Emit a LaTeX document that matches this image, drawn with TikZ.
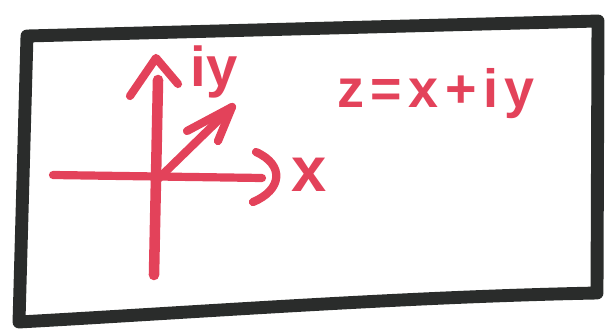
\documentclass[tikz,border=0pt]{standalone}
\usepackage{fontspec}
\setmainfont{Liberation Sans}
\usetikzlibrary{positioning}
\definecolor{Marker}{HTML}{E3425A}
\definecolor{Ink}{HTML}{2A2C2B}

\begin{document}
\begin{tikzpicture}[
  x=0.03cm,y=-0.03cm,
  frame/.style={draw=Ink,line width=11pt,line join=round,line cap=round},
  pen/.style={draw=Marker,line width=7pt,line cap=round,line join=round},
  scrawl/.style={text=Marker,inner sep=0pt,font=\bfseries}
]
  \useasboundingbox (0,0) rectangle (610,336);
  \draw[frame] (27,36) -- (598,21) -- (597,293) .. controls (400,297) and (200,312) .. (19,322) -- cycle;
  \coordinate (o) at (157,180);
  \coordinate (xstart) at (53,175);
  \coordinate (xend) at (262,178);
  \coordinate (ybot) at (154,275);
  \coordinate (ytop) at (158,80);
  \coordinate (ztip) at (232,107);
  \draw[pen] (xstart) -- (xend);
  \draw[pen,line width=9pt] (ybot) -- (ytop);
  \draw[pen] (o) -- (ztip);
  \draw[pen] (130,96) -- (156,58) -- (178,84);
  \draw[pen] (256,152) .. controls (285,165) and (282,190) .. (253,202);
  \draw[pen] (187,131) -- (ztip) -- (218,141);
  \node[scrawl,font=\bfseries\fontsize{48}{48}\selectfont] (iy) at (214,72) {iy};
  \node[scrawl,font=\bfseries\fontsize{54}{54}\selectfont] (x) at (309,175) {x};
  \node[scrawl,font=\bfseries\fontsize{46}{46}\selectfont\addfontfeature{LetterSpace=12}] (z) at (436,94) {z=x+iy};
\end{tikzpicture}
\end{document}
